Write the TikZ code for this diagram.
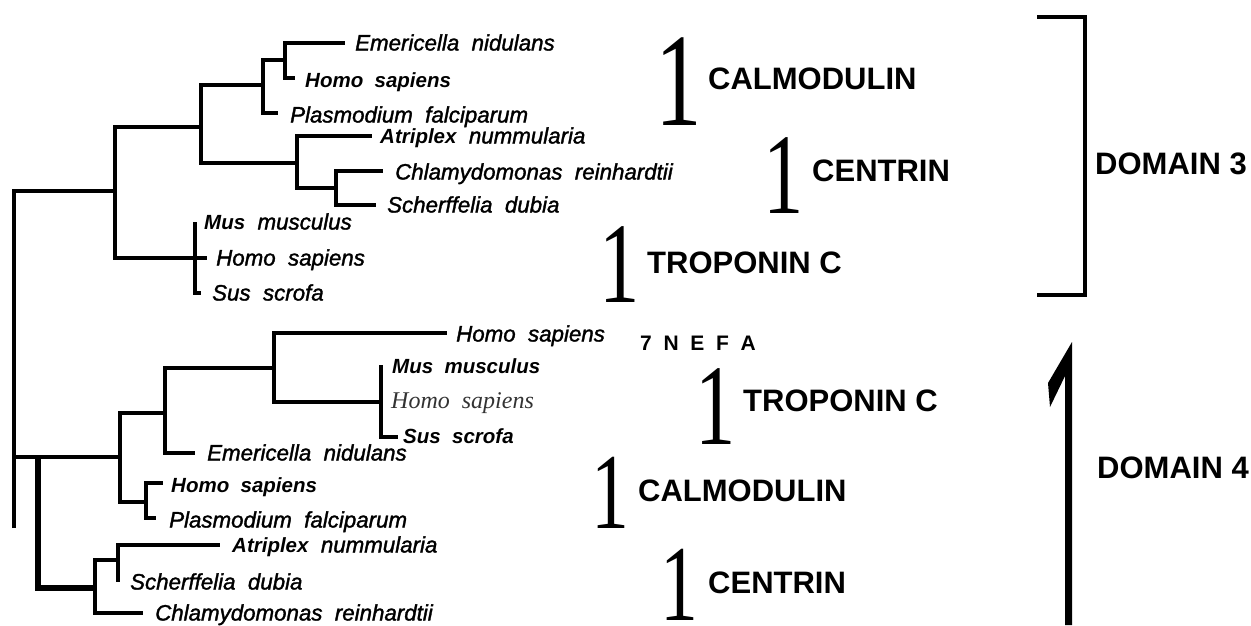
\documentclass[tikz,border=0pt]{standalone}
\usepackage{graphicx}
\usepackage{fontspec}
\newfontfamily\arialf{Liberation Sans}
\newfontfamily\arialm[ItalicFeatures={FakeBold=1.5}]{Liberation Sans}
\newfontfamily\tnrf{Liberation Serif}
\tikzset{
  br/.style={line width=4.5pt, line join=miter, line cap=butt},
  brk/.style={line width=6pt, line join=miter, line cap=butt},
  sp/.style={anchor=base west, inner sep=0pt, font=\arialm\itshape\fontsize{22.3}{22.3}\selectfont},
  spb/.style={anchor=base west, inner sep=0pt, font=\arialf\itshape\bfseries\fontsize{20.5}{20.5}\selectfont},
  srf/.style={anchor=base west, inner sep=0pt, text=black!80, font=\tnrf\itshape\fontsize{24}{24}\selectfont},
  grp/.style={anchor=base west, inner sep=0pt, font=\arialf\bfseries\fontsize{31}{31}\selectfont},
  one/.style={anchor=base, inner sep=0pt, font=\tnrf\fontsize{115}{115}\selectfont},
  onebig/.style={anchor=base, inner sep=0pt, font=\tnrf\fontsize{133}{133}\selectfont},
  onesm/.style={anchor=base, inner sep=0pt, font=\tnrf\fontsize{108}{108}\selectfont},
}
\newcommand{\sone}{\scalebox{0.7}[1]{1}}
\newcommand{\bit}[1]{{\arialf\bfseries\fontsize{20.5}{20.5}\selectfont #1}}
\begin{document}
\begin{tikzpicture}[x=1pt,y=-1pt]
\useasboundingbox (0,0) rectangle (1251,625);
% ---------- upper tree (domain 3) ----------
\coordinate (r0) at (14,191);
\coordinate (rb) at (14,528);
\coordinate (A) at (115,191);
\coordinate (B) at (201,127);
\coordinate (T) at (195,258);
\coordinate (K) at (263,85);
\coordinate (K2) at (285,60);
\coordinate (N) at (297,163);
\coordinate (N2) at (336,188);
\coordinate (uEn) at (345,43);
\coordinate (uHs) at (295,78);
\coordinate (uPf) at (278,113);
\coordinate (uAn) at (372,136);
\coordinate (uCr) at (383,171);
\coordinate (uSd) at (376,205);
\coordinate (uMm) at (195,222);
\coordinate (uHt) at (207,258);
\coordinate (uSs) at (201,293);
\draw[br] (rb) -- (r0) -- (A);
\draw[br] (A) |- (B);
\draw[br] (A) |- (T);
\draw[br] (B) |- (K);
\draw[br] (B) |- (N);
\draw[br] (K) |- (K2);
\draw[br] (K) |- (uPf);
\draw[br] (K2) |- (uEn);
\draw[br] (K2) |- (uHs);
\draw[br] (N) |- (uAn);
\draw[br] (N) |- (N2);
\draw[br] (N2) |- (uCr);
\draw[br] (N2) |- (uSd);
\draw[br] (T) -- (uMm);
\draw[br] (T) -- (uHt);
\draw[br] (T) |- (uSs);
% ---------- lower tree (domain 4) ----------
\coordinate (rm) at (14,457);
\coordinate (L1) at (120,457);
\coordinate (L2) at (165,413);
\coordinate (L3) at (146,502);
\coordinate (L4) at (274,368);
\coordinate (L5) at (381,402);
\coordinate (C0) at (38,457);
\coordinate (C1) at (95,588);
\coordinate (C2) at (118,560);
\coordinate (lHa) at (447,333);
\coordinate (lMm) at (381,365);
\coordinate (lSs) at (398,437);
\coordinate (lEn) at (195,453);
\coordinate (lHb) at (163,483);
\coordinate (lPf) at (156,518);
\coordinate (lAn) at (220,545);
\coordinate (lSd) at (118,582);
\coordinate (lCr) at (143,613);
\draw[br] (rm) -- (L1);
\draw[br] (L1) |- (L2);
\draw[br] (L1) |- (L3);
\draw[br] (L2) |- (L4);
\draw[br] (L2) |- (lEn);
\draw[br] (L4) |- (lHa);
\draw[br] (L4) |- (L5);
\draw[br] (L5) -- (lMm);
\draw[br] (L5) |- (lSs);
\draw[br] (L3) |- (lHb);
\draw[br] (L3) |- (lPf);
\draw[brk] (C0) |- (C1);
\draw[br] (C1) |- (C2);
\draw[br] (C1) |- (lCr);
\draw[br] (C2) |- (lAn);
\draw[br] (C2) -- (lSd);
% ---------- species labels ----------
\node[sp]  (tEn1) at (355,50.5) {Emericella\ \ nidulans};
\node[spb] (tHs1) at (305,87.5) {Homo\ \ sapiens};
\node[sp]  (tPf1) at (290,122.5) {Plasmodium\ \ falciparum};
\node[sp]  (tAn1) at (380,143.5) {\bit{Atriplex}\ \ nummularia};
\node[sp]  (tCr1) at (395,179.5) {Chlamydomonas\ \ reinhardtii};
\node[sp]  (tSd1) at (387,212.5) {Scherffelia\ \ dubia};
\node[sp]  (tMm1) at (204,229.5) {\bit{Mus}\ \ musculus};
\node[sp]  (tHt1) at (216,265.5) {Homo\ \ sapiens};
\node[sp]  (tSs1) at (212,300.5) {Sus\ \ scrofa};
\node[sp]  (tHa2) at (456,341.5) {Homo\ \ sapiens};
\node[spb] (tMm2) at (392,373.5) {Mus\ \ musculus};
\node[srf] (tHt2) at (391,408.5) {Homo\ \ sapiens};
\node[spb] (tSs2) at (403,443.5) {Sus\ \ scrofa};
\node[sp]  (tEn2) at (207,460.5) {Emericella\ \ nidulans};
\node[spb] (tHb2) at (171,492.5) {Homo\ \ sapiens};
\node[sp]  (tPf2) at (169,527.5) {Plasmodium\ \ falciparum};
\node[sp]  (tAn2) at (232,552.5) {\bit{Atriplex}\ \ nummularia};
\node[sp]  (tSd2) at (130,589.5) {Scherffelia\ \ dubia};
\node[sp]  (tCr2) at (155,620.5) {Chlamydomonas\ \ reinhardtii};
% ---------- big ones ----------
\node[onebig] (o1) at (679,125) {\sone};
\node[one]    (o2) at (784,213) {\sone};
\node[one]    (o3) at (620,302) {\sone};
\node[one]    (o4) at (716,444) {\sone};
\node[onesm]  (o5) at (610,528) {\sone};
\node[onesm]  (o6) at (679,620) {\sone};
% ---------- group labels ----------
\node[grp] (gCal1) at (708,89) {CALMODULIN};
\node[grp] (gCen1) at (812,181) {CENTRIN};
\node[grp] (gTro1) at (647,273) {TROPONIN C};
\node[anchor=base west, inner sep=0pt, font=\arialf\bfseries\fontsize{21}{21}\selectfont] (gNefa) at (640,350.5) {7\ \ N\ \ E\ \ F\ \ A};
\node[grp] (gTro2) at (743,411) {TROPONIN C};
\node[grp] (gCal2) at (638,501) {CALMODULIN};
\node[grp] (gCen2) at (708,593) {CENTRIN};
% ---------- domains ----------
\coordinate (d3a) at (1037,17);
\coordinate (d3b) at (1085,17);
\coordinate (d3c) at (1085,295);
\coordinate (d3d) at (1037,295);
\draw[br] (d3a) -- (d3b) -- (d3c) -- (d3d);
\node[grp] (dom3) at (1095,174) {DOMAIN 3};
\fill (1072,342) -- (1048,383) -- (1050,407) -- (1065,376) -- (1065,625) -- (1072,625) -- cycle;
\node[grp] (dom4) at (1097,478) {DOMAIN 4};
\end{tikzpicture}
\end{document}
